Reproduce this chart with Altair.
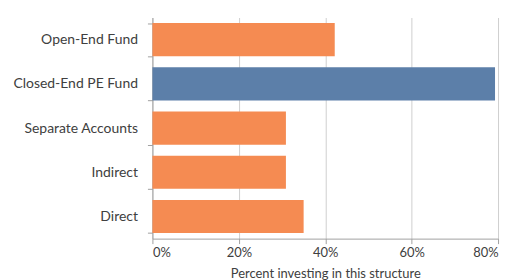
import altair as alt
import pandas as pd

categories = ["Open-End Fund", "Closed-End PE Fund", "Separate Accounts", "Indirect", "Direct"]
values = [0.422, 0.793, 0.309, 0.309, 0.35]
colors = ["#F58B52", "#5C7FA9", "#F58B52", "#F58B52", "#F58B52"]
x_ticks = [0, 0.2, 0.4, 0.6, 0.8]

df = pd.DataFrame({"category": categories, "value": values})

chart = alt.Chart(df).mark_bar(opacity=1).encode(
    y=alt.Y("category:N", sort=categories, title=None,
            scale=alt.Scale(paddingInner=0.25, paddingOuter=0.125),
            axis=alt.Axis(tickBand="extent", tickSize=5, tickColor="#A0A0A0",
                          domainColor="#A0A0A0", labelFont="Lato", labelFontSize=14,
                          labelColor="#404040", labelPadding=10, minExtent=145, maxExtent=145,
                          labelLimit=200, grid=False)),
    x=alt.X("value:Q", title="Percent investing in this structure",
            scale=alt.Scale(domain=[0, 0.8], nice=False),
            axis=alt.Axis(values=x_ticks, format=".0%", tickSize=5, tickColor="#A0A0A0",
                          domainColor="#A0A0A0", gridColor="#CFCFCF", labelFont="Lato",
                          labelFontSize=13, labelColor="#404040", titleFont="Lato",
                          titleFontSize=13, titleFontWeight="normal", titleColor="#404040",
                          labelPadding=3, titlePadding=8)),
    color=alt.Color("category:N", scale=alt.Scale(domain=categories, range=colors), legend=None),
).properties(
    width=347, height=222,
    padding={"left": 0, "top": 2, "right": 10, "bottom": 0},
).configure_view(stroke=None)

chart.save("out.html", embed_options={"renderer": "svg", "actions": False})
